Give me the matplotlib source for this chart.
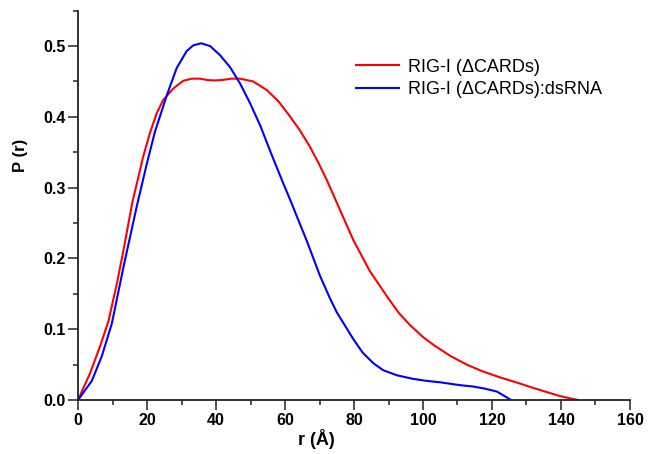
import matplotlib
matplotlib.use('Agg')
import matplotlib.pyplot as plt
from matplotlib.ticker import MultipleLocator, FormatStrFormatter

# P(r) distributions
r_free = [0, 3.5, 6.4, 8.8, 11.2, 13, 15.7, 18.9, 20.9, 22.8, 24.7, 27.6,
          30.5, 33, 35.4, 37.5, 39.5, 41.6, 44.5, 47, 50.8, 54.7, 58.1, 61.4,
          64.3, 67.2, 69.7, 72.1, 75.9, 79.8, 84.6, 89.9, 93, 96.2, 100, 103,
          108, 112.7, 117, 122.3, 127, 132, 136, 139.7, 142.5, 145]
p_free = [0, 0.038, 0.076, 0.111, 0.163, 0.207, 0.278, 0.344, 0.378, 0.405,
          0.424, 0.440, 0.451, 0.454, 0.454, 0.452, 0.4515, 0.452, 0.454,
          0.454, 0.450, 0.438, 0.422, 0.401, 0.381, 0.358, 0.335, 0.311,
          0.269, 0.226, 0.182, 0.144, 0.123, 0.106, 0.089, 0.078, 0.062,
          0.050, 0.041, 0.032, 0.025, 0.017, 0.011, 0.0056, 0.0025, 0]

r_rna = [0, 4, 6.9, 9.8, 13.4, 17, 19.9, 22.3, 25.7, 28.6, 31.5, 33.4, 35.7,
         38.3, 41.2, 44.1, 47, 49.9, 52.8, 56, 59.5, 61.4, 64.3, 66.3, 70.1,
         73, 75, 79.8, 82.5, 85.6, 88.5, 92.4, 97, 101.1, 105, 110.7, 114.6,
         118, 121.4, 123.5, 125.5]
p_rna = [0, 0.027, 0.062, 0.108, 0.193, 0.273, 0.333, 0.379, 0.430, 0.469,
         0.493, 0.501, 0.504, 0.500, 0.487, 0.470, 0.447, 0.419, 0.388, 0.348,
         0.306, 0.284, 0.249, 0.225, 0.176, 0.144, 0.124, 0.086, 0.067, 0.052,
         0.042, 0.035, 0.030, 0.027, 0.025, 0.021, 0.019, 0.016, 0.012, 0.006,
         0]

labels = ['RIG-I (\u0394CARDs)', 'RIG-I (\u0394CARDs):dsRNA']

plt.rcParams['font.family'] = ['Liberation Sans', 'DejaVu Sans']

fig = plt.figure(figsize=(6.48, 4.54), dpi=100)
ax = fig.add_axes([0.1204, 0.1189, 0.8518, 0.8575])

ax.plot(r_free, p_free, color='#ff0000', lw=1.5, label=labels[0],
        solid_joinstyle='round')
ax.plot(r_rna, p_rna, color='#0000ff', lw=1.5, label=labels[1],
        solid_joinstyle='round')

ax.set_xlim(0, 160)
ax.set_ylim(0, 0.55)
ax.xaxis.set_major_locator(MultipleLocator(20))
ax.xaxis.set_minor_locator(MultipleLocator(10))
ax.yaxis.set_major_locator(MultipleLocator(0.1))
ax.yaxis.set_minor_locator(MultipleLocator(0.05))
ax.yaxis.set_major_formatter(FormatStrFormatter('%.1f'))

for s in ['top', 'right']:
    ax.spines[s].set_visible(False)
for s in ['left', 'bottom']:
    ax.spines[s].set_linewidth(1.3)
    ax.spines[s].set_color('#222222')

ax.tick_params(which='major', direction='out', length=7, width=1.1,
               color='#222222', labelsize=11.5, pad=2)
ax.tick_params(which='minor', direction='out', length=3.5, width=1.1,
               color='#222222')
for lab in ax.get_xticklabels() + ax.get_yticklabels():
    lab.set_fontweight('bold')

ax.set_xlabel('r (\u00c5)', fontsize=13, fontweight='bold')
ax.set_ylabel('P (r)', fontsize=12, fontweight='bold')
ax.xaxis.set_label_coords(0.431, -0.075)
ax.yaxis.set_label_coords(-0.09, 0.629)

ax.legend(frameon=False, loc='upper left', bbox_to_anchor=(0.49, 0.895),
          fontsize=13, handlelength=2.4, handletextpad=0.5,
          labelspacing=0.3, borderaxespad=0)

fig.savefig('out.png', dpi=100)
